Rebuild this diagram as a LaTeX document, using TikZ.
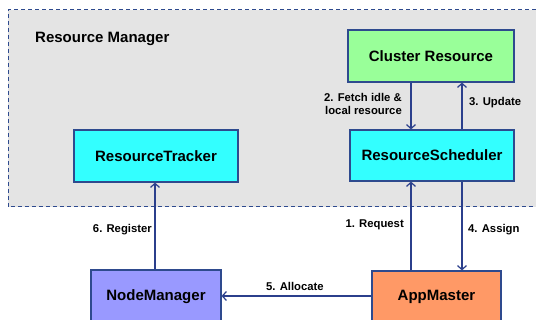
\documentclass[tikz,border=0pt]{standalone}
\usepackage{fontspec}
\setmainfont{Liberation Sans}
\usetikzlibrary{arrows.meta}
\definecolor{rmgrey}{HTML}{E4E4E4}
\definecolor{edgeblue}{HTML}{2E4A8E}
\definecolor{arrowblue}{HTML}{2B3F8C}
\definecolor{cgreen}{HTML}{99FF99}
\definecolor{ccyan}{HTML}{33FFFF}
\definecolor{cviolet}{HTML}{9999FF}
\definecolor{corange}{HTML}{FF9966}
\tikzset{
  box/.style={draw=edgeblue, line width=1.2pt, inner sep=0pt, font=\fontsize{15}{17}\selectfont\bfseries},
  conn/.style={draw=arrowblue, line width=1.5pt, -{Straight Barb[length=4pt,width=9pt,line width=1.2pt]}},
  lbl/.style={font=\fontsize{11.3}{13}\selectfont\bfseries, inner sep=0pt, text=black},
}
\begin{document}
\begin{tikzpicture}[x=1pt,y=-1pt]
\useasboundingbox (0,0) rectangle (536,320);
\fill[white] (0,0) rectangle (536,320);
% Resource Manager region
\fill[rmgrey] (8,10) rectangle (536,207);
\draw[edgeblue, line width=1pt, dash pattern=on 4pt off 3pt] (536,10) -- (8,10) -- (8,207) -- (536,207);
\node[anchor=west, inner sep=0pt, font=\fontsize{15}{17}\selectfont\bfseries] (rmtitle) at (35,39) {Resource Manager};
% boxes
\node[box, fill=cgreen, minimum width=166pt, minimum height=52pt] (cr) at (431,56) {Cluster Resource};
\node[box, fill=ccyan, minimum width=164pt, minimum height=51pt] (rs) at (432,155.5) {ResourceScheduler};
\node[box, fill=ccyan, minimum width=164pt, minimum height=52pt] (rt) at (156,156) {ResourceTracker};
\node[box, fill=cviolet, minimum width=130pt, minimum height=54pt] (nm) at (156,297) {NodeManager};
\node[box, fill=corange, minimum width=129pt, minimum height=52pt] (am) at (436.5,297) {AppMaster};
% connectors
\draw[conn] (cr.south -| 411,0) -- (rs.north -| 411,0);
\draw[conn] (rs.north -| 462,0) -- (cr.south -| 462,0);
\draw[conn] (am.north -| 411,0) -- (rs.south -| 411,0);
\draw[conn] (rs.south -| 462,0) -- (am.north -| 462,0);
\draw[conn] (nm.north -| 155,0) -- (rt.south -| 155,0);
\draw[conn] (am.west |- 0,296) -- (nm.east |- 0,296);
% labels
\node[lbl, anchor=east, align=right] (l2) at (402,104) {2. Fetch idle \&\\local resource};
\node[lbl, anchor=west] (l3) at (469,103) {3. Update};
\node[lbl, anchor=east] (l1) at (404,225) {1. Request};
\node[lbl, anchor=west] (l4) at (468,230) {4. Assign};
\node[lbl, anchor=east] (l6) at (152,230) {6. Register};
\node[lbl, anchor=west] (l5) at (266,286) {5. Allocate};
\end{tikzpicture}
\end{document}
